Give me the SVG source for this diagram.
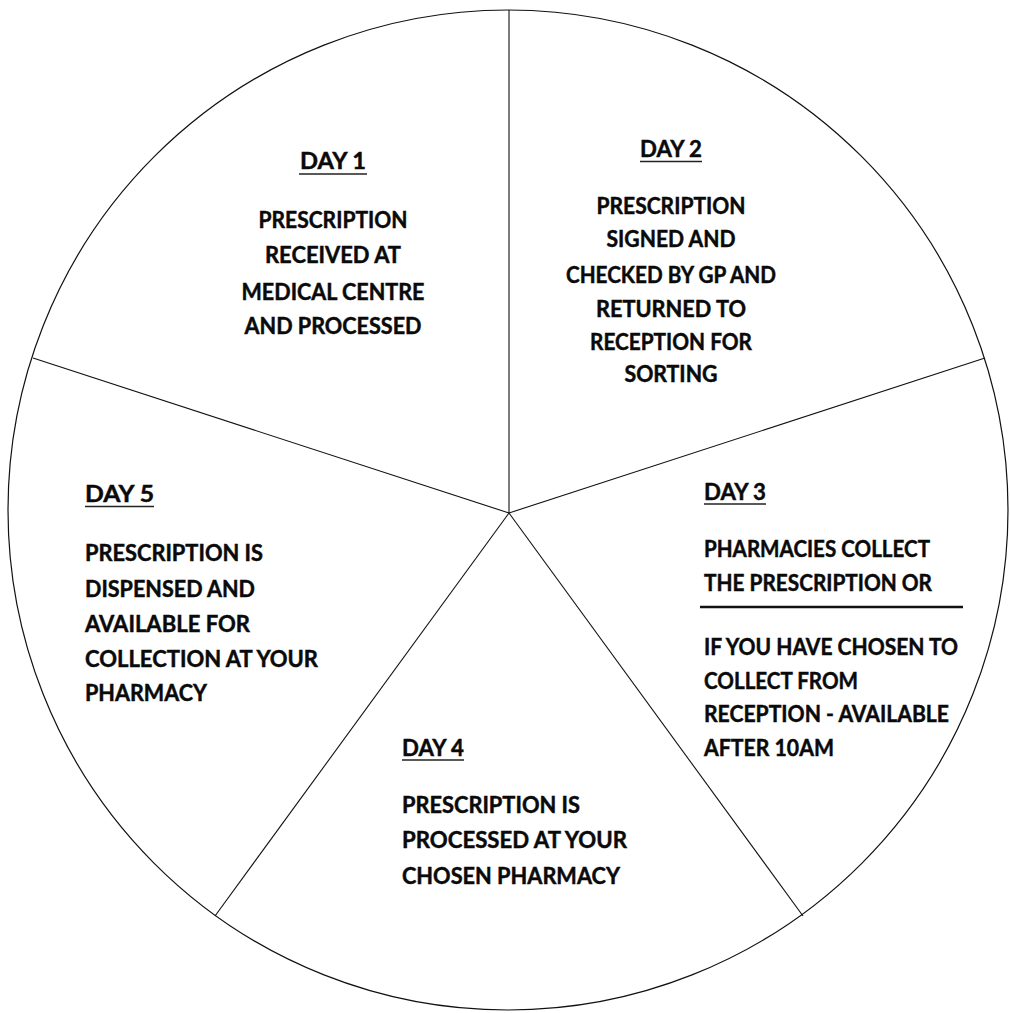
<svg xmlns="http://www.w3.org/2000/svg" width="1010" height="1013" viewBox="0 0 1010 1013">
<style>
  .t { font-family: Lato, "Open Sans", "Liberation Sans", sans-serif; font-weight: bold; font-size: 22px; fill: #0a0a0a; stroke: #0a0a0a; stroke-width: 0.45; }
  .c { text-anchor: middle; }
  .ul { stroke: #222; stroke-width: 1.6; }
  .sp { stroke: #111; stroke-width: 1.1; fill: none; }
</style>
<rect width="1010" height="1013" fill="#fff"/>
<circle cx="508" cy="510" r="500" fill="#fff" stroke="#111" stroke-width="1.2"/>
<g id="connectors">
  <line class="sp" x1="509" y1="513" x2="509" y2="10"/>
  <line class="sp" x1="509" y1="513" x2="985" y2="358"/>
  <line class="sp" x1="509" y1="513" x2="803" y2="916"/>
  <line class="sp" x1="509" y1="513" x2="215" y2="916"/>
  <line class="sp" x1="509" y1="513" x2="33" y2="358"/>
</g>
<g id="day1">
  <text class="t c" x="333" y="169" textLength="66" lengthAdjust="spacingAndGlyphs">DAY 1</text>
  <line class="ul" x1="299" y1="174" x2="367" y2="174"/>
  <text class="t c" x="333" y="228" textLength="149" lengthAdjust="spacingAndGlyphs">PRESCRIPTION</text>
  <text class="t c" x="333" y="263" textLength="136" lengthAdjust="spacingAndGlyphs">RECEIVED AT</text>
  <text class="t c" x="333" y="300" textLength="183" lengthAdjust="spacingAndGlyphs">MEDICAL CENTRE</text>
  <text class="t c" x="333" y="334" textLength="177" lengthAdjust="spacingAndGlyphs">AND PROCESSED</text>
</g>
<g id="day2">
  <text class="t c" x="671" y="157" textLength="62" lengthAdjust="spacingAndGlyphs">DAY 2</text>
  <line class="ul" x1="640" y1="161.5" x2="702" y2="161.5"/>
  <text class="t c" x="671" y="214" textLength="149" lengthAdjust="spacingAndGlyphs">PRESCRIPTION</text>
  <text class="t c" x="671" y="247" textLength="129" lengthAdjust="spacingAndGlyphs">SIGNED AND</text>
  <text class="t c" x="671" y="283" textLength="210" lengthAdjust="spacingAndGlyphs">CHECKED BY GP AND</text>
  <text class="t c" x="671" y="317" textLength="150" lengthAdjust="spacingAndGlyphs">RETURNED TO</text>
  <text class="t c" x="671" y="350" textLength="162" lengthAdjust="spacingAndGlyphs">RECEPTION FOR</text>
  <text class="t c" x="671" y="382" textLength="93" lengthAdjust="spacingAndGlyphs">SORTING</text>
</g>
<g id="day3">
  <text class="t" x="704" y="500" textLength="62" lengthAdjust="spacingAndGlyphs">DAY 3</text>
  <line class="ul" x1="704" y1="504" x2="766" y2="504"/>
  <text class="t" x="704" y="557" textLength="226" lengthAdjust="spacingAndGlyphs">PHARMACIES COLLECT</text>
  <text class="t" x="704" y="591" textLength="228" lengthAdjust="spacingAndGlyphs">THE PRESCRIPTION OR</text>
  <line x1="700" y1="607" x2="963" y2="607" stroke="#111" stroke-width="2.6"/>
  <text class="t" x="704" y="655" textLength="254" lengthAdjust="spacingAndGlyphs">IF YOU HAVE CHOSEN TO</text>
  <text class="t" x="704" y="689" textLength="154" lengthAdjust="spacingAndGlyphs">COLLECT FROM</text>
  <text class="t" x="704" y="722" textLength="245" lengthAdjust="spacingAndGlyphs">RECEPTION - AVAILABLE</text>
  <text class="t" x="704" y="756" textLength="130" lengthAdjust="spacingAndGlyphs">AFTER 10AM</text>
</g>
<g id="day4">
  <text class="t" x="402" y="756" textLength="62" lengthAdjust="spacingAndGlyphs">DAY 4</text>
  <line class="ul" x1="402" y1="760" x2="464" y2="760"/>
  <text class="t" x="402" y="813" textLength="178" lengthAdjust="spacingAndGlyphs">PRESCRIPTION IS</text>
  <text class="t" x="402" y="848" textLength="225" lengthAdjust="spacingAndGlyphs">PROCESSED AT YOUR</text>
  <text class="t" x="402" y="884" textLength="218" lengthAdjust="spacingAndGlyphs">CHOSEN PHARMACY</text>
</g>
<g id="day5">
  <text class="t" x="85" y="502" textLength="69" lengthAdjust="spacingAndGlyphs">DAY 5</text>
  <line class="ul" x1="85" y1="506.5" x2="154" y2="506.5"/>
  <text class="t" x="85" y="561" textLength="178" lengthAdjust="spacingAndGlyphs">PRESCRIPTION IS</text>
  <text class="t" x="85" y="597" textLength="170" lengthAdjust="spacingAndGlyphs">DISPENSED AND</text>
  <text class="t" x="85" y="632" textLength="165" lengthAdjust="spacingAndGlyphs">AVAILABLE FOR</text>
  <text class="t" x="85" y="667" textLength="233" lengthAdjust="spacingAndGlyphs">COLLECTION AT YOUR</text>
  <text class="t" x="85" y="701" textLength="122" lengthAdjust="spacingAndGlyphs">PHARMACY</text>
</g>
</svg>
